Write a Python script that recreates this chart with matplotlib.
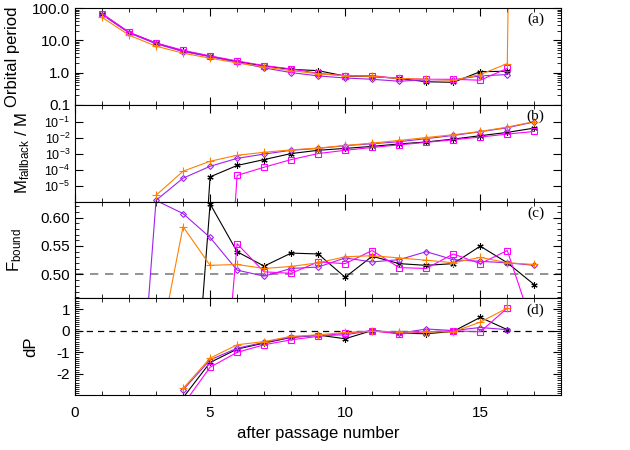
import numpy as np
import matplotlib
matplotlib.use("Agg")
import matplotlib.pyplot as plt
from matplotlib.ticker import MultipleLocator, LogLocator, FixedLocator, NullFormatter

plt.rcParams['font.family'] = ['Liberation Sans', 'DejaVu Sans']
plt.rcParams['mathtext.fontset'] = 'custom'
plt.rcParams['mathtext.rm'] = 'Liberation Sans'
plt.rcParams['mathtext.it'] = 'Liberation Sans'
plt.rcParams['axes.unicode_minus'] = False

nan = np.nan
passage = np.arange(1, 18)

# (a) orbital period
period_black = [65, 17.5, 8.2, 4.7, 3.2, 2.2, 1.6, 1.26, 1.15, 0.78, 0.75, 0.66, 0.52, 0.5, 1.07, 1.1, nan]
period_purple = [63, 17, 7.8, 4.5, 3.1, 2.1, 1.4, 1.0, 0.79, 0.68, 0.62, 0.54, 0.6, 0.6, 0.79, 0.87, nan]
period_magenta = [68, 18, 8.3, 4.9, 3.3, 2.3, 1.65, 1.3, 0.95, 0.8, 0.8, 0.66, 0.62, 0.62, 0.58, 1.35, nan]
period_orange = [52, 14.5, 6.6, 4.0, 2.8, 2.0, 1.5, 1.15, 0.92, 0.8, 0.76, 0.66, 0.62, 0.58, 0.87, 1.9, 1e60]

# (b) fallback mass fraction
mfb_black = [nan, nan, nan, 1e-30, 3.5e-5, 1.8e-4, 4.2e-4, 1.0e-3, 1.6e-3, 2.1e-3, 2.8e-3, 4.0e-3, 5.3e-3, 8.0e-3, 1.3e-2, 2.1e-2, 3.9e-2]
mfb_purple = [nan, nan, 1.2e-6, 2.9e-5, 1.6e-4, 5e-4, 9.3e-4, 1.6e-3, 2.1e-3, 3.1e-3, 4.1e-3, 5.5e-3, 8.5e-3, 1.35e-2, 2.3e-2, 4.1e-2, 9.5e-2]
mfb_magenta = [nan, nan, nan, nan, 1e-30, 4.3e-5, 1.4e-4, 4.2e-4, 1.0e-3, 1.6e-3, 2.4e-3, 3.5e-3, 5.0e-3, 7.3e-3, 1.07e-2, 1.65e-2, 2.4e-2]
mfb_orange = [nan, nan, 2.5e-6, 7.9e-5, 3.3e-4, 7.8e-4, 1.2e-3, 1.7e-3, 2.2e-3, 3.2e-3, 4.5e-3, 6.6e-3, 1.0e-2, 1.5e-2, 2.4e-2, 4.5e-2, 0.1]

# (c) bound fraction
fb_black = [nan, nan, nan, 0.0, 0.624, 0.540, 0.5146, 0.5375, 0.536, 0.495, 0.532, 0.519, 0.516, 0.519, 0.5497, 0.5205, 0.482]
fb_purple = [nan, 0.0, 0.63, 0.607, 0.565, 0.5076, 0.497, 0.5105, 0.513, 0.529, 0.522, 0.526, 0.540, 0.526, 0.523, 0.5205, 0.516]
fb_magenta = [nan, nan, nan, nan, 0.0, 0.554, 0.5046, 0.502, 0.522, 0.519, 0.542, 0.512, 0.5105, 0.536, 0.519, 0.542, 0.40]
fb_orange = [nan, nan, 0.34, 0.584, 0.516, 0.5175, 0.5105, 0.514, 0.5205, 0.531, 0.533, 0.529, 0.525, 0.5205, 0.530, 0.5205, 0.5175]

# (d) dP
dp_black = [nan, nan, nan, -3.1, -1.47, -0.85, -0.57, -0.31, -0.2, -0.37, 0.01, -0.11, -0.14, -0.03, 0.62, 0.05, nan]
dp_purple = [nan, nan, nan, -2.74, -1.35, -0.81, -0.54, -0.3, -0.22, -0.19, 0.01, -0.12, 0.08, 0.01, 0.15, 0.05, nan]
dp_magenta = [nan, nan, nan, -3.43, -1.69, -1.0, -0.65, -0.42, -0.26, -0.11, 0.0, -0.15, -0.05, 0.0, -0.05, 1.05, nan]
dp_orange = [nan, nan, nan, -2.67, -1.27, -0.65, -0.5, -0.26, -0.19, -0.08, -0.03, -0.05, -0.05, -0.05, 0.40, 1.05, 50]

colors = {'black': '#000000', 'purple': '#a020f0', 'magenta': '#ff00ff', 'orange': '#ff8000'}
markers = {'black': (6, 2, 0), 'purple': 'D', 'magenta': 's', 'orange': '+'}
msizes = {'black': 4.5, 'purple': 3, 'magenta': 4, 'orange': 6}

panels = [
    {'black': period_black, 'purple': period_purple, 'magenta': period_magenta, 'orange': period_orange},
    {'black': mfb_black, 'purple': mfb_purple, 'magenta': mfb_magenta, 'orange': mfb_orange},
    {'black': fb_black, 'purple': fb_purple, 'magenta': fb_magenta, 'orange': fb_orange},
    {'black': dp_black, 'purple': dp_purple, 'magenta': dp_magenta, 'orange': dp_orange},
]

fig, axes = plt.subplots(4, 1, figsize=(6.3, 4.5), dpi=100, sharex=True)
fig.subplots_adjust(left=0.119, right=0.891, top=0.982, bottom=0.122, hspace=0)

for ax, data in zip(axes, panels):
    for name in ['black', 'purple', 'magenta', 'orange']:
        ax.plot(passage, data[name], color=colors[name], lw=0.8,
                marker=markers[name], ms=msizes[name], mfc='none',
                mec=colors[name], mew=0.8)
    ax.tick_params(which='both', direction='in', top=True, right=True, labelsize=11)
    ax.tick_params(which='major', length=6)
    ax.tick_params(which='minor', length=3)

# (a)
ax = axes[0]
ax.set_yscale('log')
ax.set_ylim(0.1, 100)
ax.yaxis.set_major_locator(FixedLocator([0.1, 1, 10, 100]))
ax.set_yticklabels(['0.1', '1.0', '10.0', '100.0'])
ax.yaxis.set_minor_locator(LogLocator(base=10, subs=np.arange(2, 10)))
ax.yaxis.set_minor_formatter(NullFormatter())
ax.set_ylabel('Orbital period', fontsize=12)
ax.yaxis.set_label_coords(-0.113, 0.5)

# (b)
ax = axes[1]
ax.set_yscale('log')
ax.set_ylim(1e-6, 1.1)
ax.yaxis.set_major_locator(FixedLocator([1e-5, 1e-4, 1e-3, 1e-2, 1e-1]))
ax.set_yticklabels([r'10$^{-5}$', r'10$^{-4}$', r'10$^{-3}$', r'10$^{-2}$', r'10$^{-1}$'],
                   fontsize=9)
ax.yaxis.set_minor_locator(LogLocator(base=10, subs=np.arange(2, 10)))
ax.yaxis.set_minor_formatter(NullFormatter())
ax.set_ylabel(r'M$_{\rm fallback}$ / M', fontsize=12)
ax.yaxis.set_label_coords(-0.088, 0.5)

# (c)
ax = axes[2]
ax.set_ylim(0.458, 0.628)
ax.axhline(0.50, color='#808080', ls=(0, (5, 4)), lw=1.2, zorder=0)
ax.yaxis.set_major_locator(FixedLocator([0.50, 0.55, 0.60]))
ax.set_yticklabels(['0.50', '0.55', '0.60'])
ax.yaxis.set_minor_locator(MultipleLocator(0.01))
ax.set_ylabel(r'F$_{\rm bound}$', fontsize=12)
ax.yaxis.set_label_coords(-0.105, 0.5)

# (d)
ax = axes[3]
ax.set_ylim(-2.98, 1.5)
ax.axhline(0, color='black', ls=(0, (5, 4)), lw=0.9, zorder=0)
ax.yaxis.set_major_locator(FixedLocator([-2, -1, 0, 1]))
ax.set_yticklabels(['-2', '-1', '0', '1'])
ax.yaxis.set_minor_locator(MultipleLocator(0.1))
ax.set_ylabel('dP', fontsize=12)
ax.yaxis.set_label_coords(-0.076, 0.5)

ax.set_xlim(0, 18)
ax.xaxis.set_major_locator(MultipleLocator(5))
ax.xaxis.set_minor_locator(MultipleLocator(1))
ax.set_xlabel('after passage number', fontsize=12)
ax.tick_params(axis='x', which='major', pad=8)

for ax, lab in zip(axes, ['(a)', '(b)', '(c)', '(d)']):
    ax.text(0.965, 0.88, lab, transform=ax.transAxes, ha='right', va='center',
            family='Liberation Serif', fontsize=11)

fig.savefig('out.png', dpi=100)
